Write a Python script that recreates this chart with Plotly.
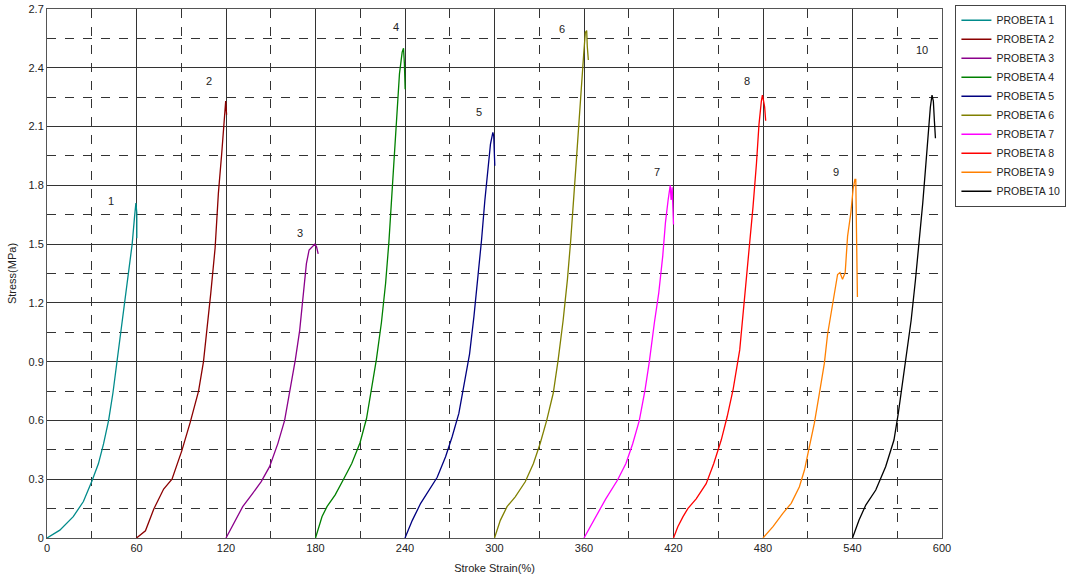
import plotly.graph_objects as go

names = ["PROBETA 1", "PROBETA 2", "PROBETA 3", "PROBETA 4", "PROBETA 5",
         "PROBETA 6", "PROBETA 7", "PROBETA 8", "PROBETA 9", "PROBETA 10"]
colors = ["#008b8b", "#8b0000", "#8b008b", "#008000", "#000080",
          "#808000", "#ff00ff", "#ff0000", "#ff8000", "#000000"]

p1_x = [0, 8.6, 17.6, 24.4, 30, 34.5, 37.9, 41.3, 44.2, 46.95, 49.7, 52.1, 54.9, 57.1, 58.7, 59.6, 60.2, 60.2]
p1_y = [0, 0.04, 0.109, 0.186, 0.288, 0.38, 0.48, 0.60, 0.74, 0.90, 1.06, 1.20, 1.37, 1.50, 1.64, 1.71, 1.66, 1.53]

p2_x = [60, 66, 71.6, 78.2, 83.8, 90.4, 96, 101.6, 104.9, 107.6, 109.8, 112.7, 114.9, 117.1, 118.7, 119.8, 120.4]
p2_y = [0, 0.037, 0.148, 0.25, 0.30, 0.446, 0.59, 0.75, 0.90, 1.08, 1.25, 1.48, 1.76, 1.96, 2.10, 2.23, 2.16]

p3_x = [120, 125.6, 131.2, 137.9, 143.6, 149.2, 154.8, 159.3, 163.1, 166.5, 169.4, 172.1, 173.9, 175.7, 178.0, 179.6, 180.7, 181.8]
p3_y = [0, 0.083, 0.16, 0.228, 0.288, 0.364, 0.483, 0.60, 0.755, 0.91, 1.06, 1.25, 1.40, 1.47, 1.486, 1.50, 1.486, 1.45]

p4_x = [180, 184.4, 187.7, 193.2, 198.8, 204.3, 209.8, 214.2, 217.5, 220.8, 224.2, 227.0, 229.2, 231.2, 233.0, 234.5, 236.3, 238.1, 239.0, 239.6, 240.1]
p4_y = [0, 0.11, 0.16, 0.22, 0.30, 0.38, 0.485, 0.61, 0.76, 0.91, 1.10, 1.30, 1.51, 1.75, 1.95, 2.15, 2.37, 2.48, 2.50, 2.42, 2.29]

p5_x = [240, 244.9, 250.5, 256.0, 261.6, 267.2, 271.6, 276.1, 279.9, 283.3, 286.2, 288.8, 291.3, 293.5, 295.5, 297.3, 298.9, 299.5, 300.2]
p5_y = [0, 0.09, 0.177, 0.245, 0.31, 0.415, 0.517, 0.636, 0.79, 0.94, 1.13, 1.32, 1.52, 1.72, 1.89, 2.01, 2.07, 2.05, 1.90]

p6_x = [300, 303.9, 308.4, 313.9, 320.6, 326.1, 330.5, 335.0, 339.4, 342.7, 346.0, 348.9, 351.1, 353.1, 354.9, 356.7, 358.2, 359.8, 360.9, 361.8, 362.2, 362.9]
p6_y = [0, 0.09, 0.16, 0.21, 0.287, 0.38, 0.48, 0.60, 0.74, 0.91, 1.11, 1.32, 1.52, 1.72, 1.93, 2.13, 2.32, 2.47, 2.58, 2.59, 2.51, 2.44]

p7_x = [360, 367.9, 374.6, 382.5, 388.1, 392.6, 397.1, 400.9, 403.8, 407.2, 410.1, 412.8, 414.6, 416.4, 417.8, 418.4, 419.1, 420.0]
p7_y = [0, 0.109, 0.20, 0.296, 0.38, 0.48, 0.60, 0.755, 0.90, 1.10, 1.25, 1.44, 1.61, 1.725, 1.80, 1.725, 1.79, 1.60]

p8_x = [420, 422.9, 426.3, 429.6, 435.2, 441.9, 447, 452, 456, 460, 464.4, 466.7, 470, 473.3, 475.6, 477.3, 478.9, 479.6, 480.4, 481.1, 481.8]
p8_y = [0, 0.057, 0.108, 0.15, 0.20, 0.277, 0.38, 0.50, 0.62, 0.76, 0.96, 1.146, 1.436, 1.69, 1.91, 2.11, 2.23, 2.26, 2.23, 2.20, 2.13]

p9_x = [480, 486.7, 493.3, 498.9, 504.4, 507.8, 511.1, 514.4, 517.8, 521.1, 523.3, 525.6, 527.8, 530.0, 531.6, 533.3, 535.1, 536.7, 538.9, 540.4, 541.6, 542.2, 542.7, 543.3]
p9_y = [0, 0.058, 0.126, 0.177, 0.262, 0.347, 0.466, 0.585, 0.738, 0.89, 1.04, 1.146, 1.25, 1.345, 1.355, 1.32, 1.355, 1.54, 1.66, 1.78, 1.83, 1.83, 1.55, 1.23]

p10_x = [540, 544.4, 548.9, 555.6, 562.2, 567.8, 570.7, 573.8, 576.7, 579.3, 582.2, 584.9, 587.1, 588.9, 590.7, 592.2, 593.3, 594.2, 594.9, 595.6]
p10_y = [0, 0.092, 0.168, 0.245, 0.364, 0.50, 0.636, 0.806, 0.94, 1.11, 1.317, 1.52, 1.71, 1.88, 2.065, 2.20, 2.26, 2.23, 2.13, 2.04]

series_x = [p1_x, p2_x, p3_x, p4_x, p5_x, p6_x, p7_x, p8_x, p9_x, p10_x]
series_y = [p1_y, p2_y, p3_y, p4_y, p5_y, p6_y, p7_y, p8_y, p9_y, p10_y]

label_text = ["1", "2", "3", "4", "5", "6", "7", "8", "9", "10"]
label_x = [42.9, 108.6, 169.6, 234.0, 289.6, 345.2, 408.9, 469.3, 528.9, 586.6]
label_y = [1.72, 2.33, 1.557, 2.61, 2.175, 2.60, 1.87, 2.33, 1.87, 2.49]

x_ticks = [0, 60, 120, 180, 240, 300, 360, 420, 480, 540, 600]
y_ticks = [0, 0.3, 0.6, 0.9, 1.2, 1.5, 1.8, 2.1, 2.4, 2.7]
y_tick_text = ["0", "0.3", "0.6", "0.9", "1.2", "1.5", "1.8", "2.1", "2.4", "2.7"]

fig = go.Figure()
for nm, c, xs, ys in zip(names, colors, series_x, series_y):
    fig.add_trace(go.Scatter(x=xs, y=ys, mode="lines", name=nm,
                             line=dict(color=c, width=1.3)))

for t, lx, ly in zip(label_text, label_x, label_y):
    fig.add_annotation(x=lx, y=ly, text=t, showarrow=False,
                       font=dict(size=11, color="#222"))

fig.update_layout(
    width=1069, height=582,
    margin=dict(l=47, r=127, t=9, b=44, autoexpand=False),
    paper_bgcolor="white", plot_bgcolor="white",
    font=dict(family="Liberation Sans, Arial, sans-serif", size=11, color="#222"),
    showlegend=True,
    legend=dict(x=1.015, y=1.008, xanchor="left", yanchor="top",
                bordercolor="#444", borderwidth=1, bgcolor="white",
                font=dict(size=10.5, color="#222"), itemwidth=30,
                tracegroupgap=0),
)
fig.update_xaxes(
    range=[0, 600], tickvals=x_ticks, ticktext=[str(v) for v in x_ticks],
    showgrid=True, gridcolor="#333", gridwidth=1,
    minor=dict(dtick=30, tick0=0, showgrid=True, gridcolor="#333",
               griddash="dash", gridwidth=1),
    showline=True, linecolor="#555", linewidth=1, mirror=True,
    zeroline=False, ticks="", automargin=False,
    title=dict(text="Stroke Strain(%)", font=dict(size=11), standoff=11),
)
fig.update_yaxes(
    range=[0, 2.7], tickvals=y_ticks, ticktext=y_tick_text,
    showgrid=True, gridcolor="#333", gridwidth=1,
    minor=dict(dtick=0.15, tick0=0, showgrid=True, gridcolor="#333",
               griddash="dash", gridwidth=1),
    showline=True, linecolor="#555", linewidth=1, mirror=True,
    zeroline=False, ticks="", automargin=False,
    title=dict(text="Stress(MPa)", font=dict(size=11), standoff=9),
)

fig.write_html("out.html", config={"displayModeBar": False},
               post_script="document.body.style.margin='0';")
